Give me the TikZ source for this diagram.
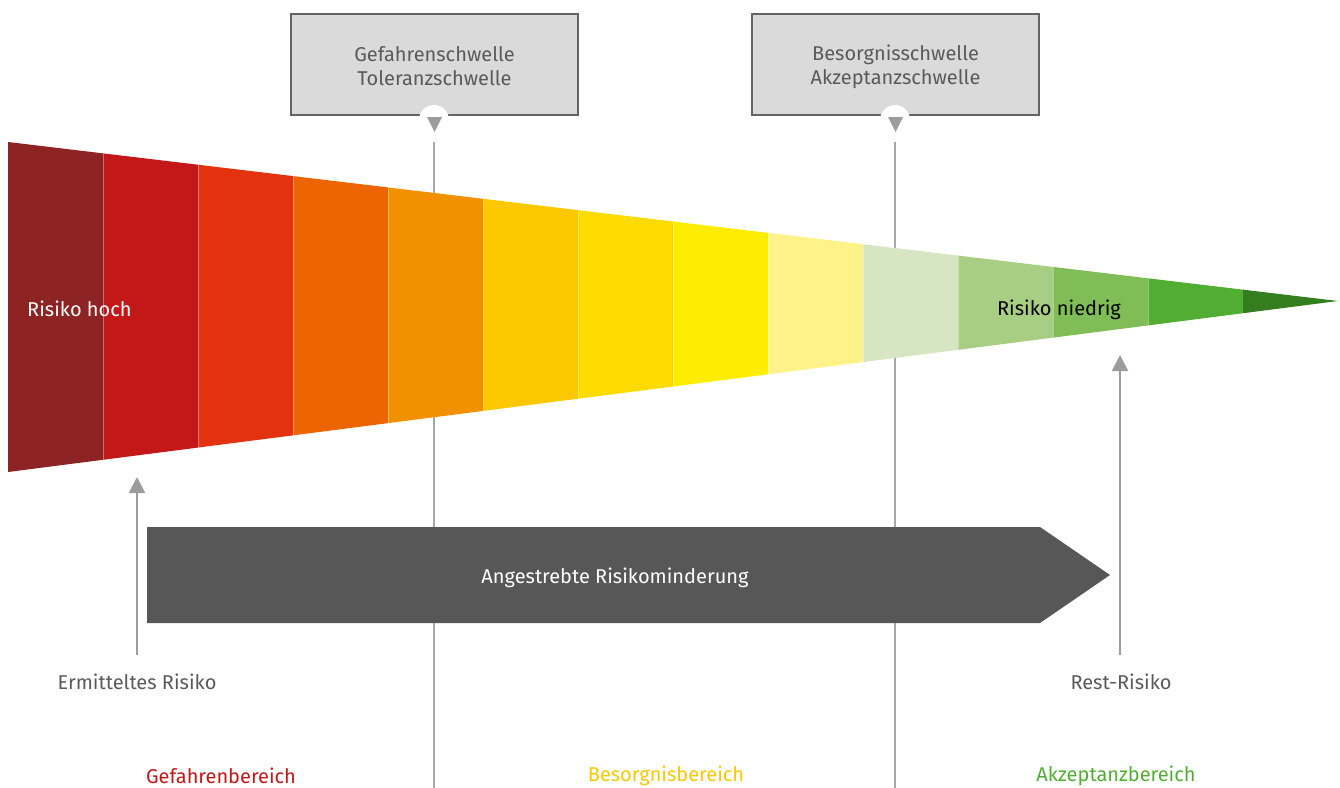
\documentclass[tikz,border=0pt]{standalone}
\usepackage{fontspec}
\setmainfont{Fira Sans}
\usetikzlibrary{arrows.meta}
\definecolor{txtgray}{HTML}{5A5A5A}
\definecolor{boxfill}{HTML}{DADADA}
\definecolor{boxline}{HTML}{646464}
\definecolor{linegray}{HTML}{A8A8A8}
\definecolor{arrowgray}{HTML}{9C9C9C}
\definecolor{bigarrow}{HTML}{575757}
\definecolor{cA}{HTML}{8E2323}
\definecolor{cB}{HTML}{C41718}
\definecolor{cC}{HTML}{E2320F}
\definecolor{cD}{HTML}{EC6500}
\definecolor{cE}{HTML}{F29100}
\definecolor{cF}{HTML}{FDC800}
\definecolor{cG}{HTML}{FDDB00}
\definecolor{cH}{HTML}{FEED00}
\definecolor{cI}{HTML}{FEF288}
\definecolor{cJ}{HTML}{D6E6C3}
\definecolor{cK}{HTML}{A8CE84}
\definecolor{cL}{HTML}{80BD56}
\definecolor{cM}{HTML}{52AE32}
\definecolor{cN}{HTML}{357E20}
\tikzset{
  lbl/.style={font=\fontsize{20}{24}\selectfont, text=txtgray, inner sep=0pt, align=center},
  threshbox/.style={draw=boxline, line width=2pt, fill=boxfill, minimum width=287pt, minimum height=101pt, inner sep=0pt},
  thresh/.style={draw=linegray, line width=1.5pt},
  pointer/.style={draw=arrowgray, line width=2pt, -{Triangle[width=16pt,length=16pt]}, arrowgray},
  zone/.style={font=\fontsize{20}{24}\selectfont, inner sep=0pt}
}
\begin{document}
\begin{tikzpicture}[x=1pt,y=-1pt]
\useasboundingbox (0,0) rectangle (1340,787);
\clip (0,0) rectangle (1340,787);
% threshold lines (behind)
\coordinate (l1top) at (434,142);
\coordinate (l1bot) at (434,790);
\coordinate (l2top) at (895,142);
\coordinate (l2bot) at (895,790);
\draw[thresh] (l1top) -- (l1bot);
\draw[thresh] (l2top) -- (l2bot);
% wedge segments
\foreach \i/\c in {0/cA,1/cB,2/cC,3/cD,4/cE,5/cF,6/cG,7/cH,8/cI,9/cJ,10/cK,11/cL,12/cM,13/cN}{
  \pgfmathsetmacro{\xa}{8+95*\i}
  \pgfmathsetmacro{\xb}{8+95*(\i+1)}
  \pgfmathsetmacro{\ta}{142+0.1195489*(\xa-8)}
  \pgfmathsetmacro{\tb}{142+0.1195489*(\xb-8)}
  \pgfmathsetmacro{\ba}{472-0.1285714*(\xa-8)}
  \pgfmathsetmacro{\bb}{472-0.1285714*(\xb-8)}
  \fill[\c] (\xa,\ta) -- (\xb,\tb) -- (\xb,\bb) -- (\xa,\ba) -- cycle;
}
\foreach \i in {1,...,12}{
  \pgfmathsetmacro{\xa}{8+95*\i}
  \pgfmathsetmacro{\ta}{142+0.1195489*(\xa-8)}
  \pgfmathsetmacro{\ba}{472-0.1285714*(\xa-8)}
  \draw[white, opacity=0.35, line width=0.6pt] (\xa,\ta) -- (\xa,\ba);
}
\node[zone, text=white, anchor=west] (hoch) at (27,309) {Risiko hoch};
\node[zone, text=black] (niedrig) at (1059,310) {Risiko niedrig};
% threshold boxes
\node[threshbox] (box1) at (434.5,64.5) {};
\node[lbl] (box1txt) at (434.5,66.5) {Gefahrenschwelle\\Toleranzschwelle};
\node[threshbox] (box2) at (895.5,64.5) {};
\node[lbl] (box2txt) at (895.5,66.5) {Besorgnisschwelle\\Akzeptanzschwelle};
\fill[white] (434,120) circle[radius=15];
\fill[white] (419,116) rectangle (449,140);
\fill[arrowgray] (427,117) -- (442,117) -- (434.5,132) -- cycle;
\fill[white] (895,120) circle[radius=15];
\fill[white] (880,116) rectangle (910,140);
\fill[arrowgray] (888,117) -- (903,117) -- (895.5,132) -- cycle;
% big arrow
\fill[bigarrow] (147,527) -- (1040,527) -- (1110,575) -- (1040,623) -- (147,623) -- cycle;
\node[lbl, text=white] (reduce) at (615,578) {Angestrebte Risikominderung};
% pointer arrows
\node[lbl] (ermittelt) at (137,682) {Ermitteltes Risiko};
\node[lbl] (rest) at (1121,682) {Rest-Risiko};
\coordinate (ermtip) at (137,477);
\coordinate (resttip) at (1120,355);
\draw[pointer] (137,655) -- (ermtip);
\draw[pointer] (1120,655) -- (resttip);
% zones
\node[zone, text=cB] (gef) at (221,776) {Gefahrenbereich};
\node[zone, text=cF] (bes) at (666,776) {Besorgnisbereich};
\node[zone, text=cM] (akz) at (1116,776) {Akzeptanzbereich};
\end{tikzpicture}
\end{document}
